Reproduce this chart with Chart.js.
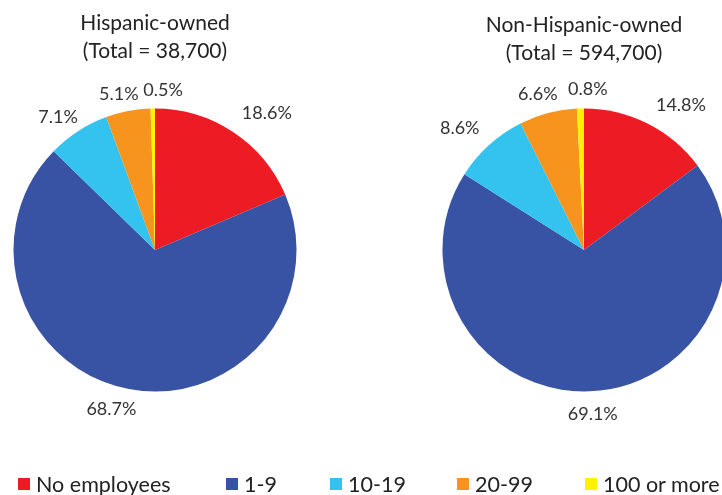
<!DOCTYPE html>
<html lang="en">
<head>
    <meta charset="UTF-8">
    <title>Firms by employment size: Hispanic vs Non-Hispanic owned</title>
    <script src="https://cdn.jsdelivr.net/npm/chart.js"></script>
    <style>
        html, body { margin: 0; padding: 0; background: #fff; overflow: hidden; }
        body { width: 722px; height: 495px; position: relative; font-family: Lato, "Open Sans", sans-serif; }
        .pie-box { position: absolute; top: 0; width: 310px; height: 495px; }
        #leftBox { left: 0; }
        #rightBox { left: 429px; }
        #legend { position: absolute; top: 471px; left: 18px; width: 704px; display: flex; font-size: 21.5px; line-height: 26px; color: #222; white-space: nowrap; }
        .item { display: flex; align-items: center; flex-shrink: 0; }
        .swatch { width: 12px; height: 12px; margin-right: 6px; }
    </style>
</head>
<body>
    <div id="leftBox" class="pie-box"><canvas id="leftPie"></canvas></div>
    <div id="rightBox" class="pie-box"><canvas id="rightPie"></canvas></div>
    <div id="legend"></div>

    <script>
        const categories = ['No employees', '1-9', '10-19', '20-99', '100 or more'];
        const hispanicShares = [18.6, 68.7, 7.1, 5.1, 0.5];
        const nonHispanicShares = [14.8, 69.1, 8.6, 6.6, 0.8];
        const hispanicTitle = ['Hispanic-owned', '(Total = 38,700)'];
        const nonHispanicTitle = ['Non-Hispanic-owned', '(Total = 594,700)'];
        const sliceColors = ['#ED1C24', '#3953A4', '#34C3EF', '#F7941D', '#FFF200'];

        // value labels sitting outside the pie, placed along each slice's middle angle
        const outsideLabels = {
            id: 'outsideLabels',
            afterDatasetsDraw(chart, args, opts) {
                const ctx = chart.ctx;
                const values = chart.data.datasets[0].data;
                ctx.save();
                ctx.font = opts.font;
                ctx.fillStyle = opts.color;
                ctx.textAlign = 'center';
                ctx.textBaseline = 'middle';
                chart.getDatasetMeta(0).data.forEach((arc, i) => {
                    const a = (arc.startAngle + arc.endAngle) / 2 + opts.turn[i] * Math.PI / 180;
                    const d = opts.dist[i];
                    ctx.fillText(values[i].toFixed(1) + '%', arc.x + Math.cos(a) * d, arc.y + Math.sin(a) * d);
                });
                ctx.restore();
            }
        };

        function makePie(id, values, title, titleTop, dist, turn) {
            return new Chart(document.getElementById(id), {
                type: 'pie',
                data: {
                    labels: categories,
                    datasets: [{
                        data: values,
                        backgroundColor: sliceColors,
                        borderWidth: 0
                    }]
                },
                options: {
                    responsive: true,
                    maintainAspectRatio: false,
                    animation: false,
                    layout: { padding: { left: 13.5, right: 13.5, top: 0, bottom: 103.5 } },
                    plugins: {
                        legend: { display: false },
                        tooltip: { enabled: false },
                        title: {
                            display: true,
                            text: title,
                            color: '#222',
                            font: { family: 'Lato', size: 21, weight: 'normal', lineHeight: 1.33 },
                            padding: { top: titleTop, bottom: 52.5 - titleTop }
                        },
                        outsideLabels: {
                            font: '18px Lato',
                            color: '#333',
                            dist: dist,
                            turn: turn
                        }
                    }
                },
                plugins: [outsideLabels]
            });
        }

        makePie('leftPie', hispanicShares, hispanicTitle, 9, [177, 165, 164, 160, 160], [5.7, 4.7, -3.3, -2.1, 3.8]);
        makePie('rightPie', nonHispanicShares, nonHispanicTitle, 11, [174, 164, 174, 162, 161], [7.2, -0.9, -3.4, -1.8, 2.8]);

        // legend below both pies
        const itemWidths = [208, 104, 127, 128, 137];
        const legend = document.getElementById('legend');
        categories.forEach((name, i) => {
            const item = document.createElement('div');
            item.className = 'item';
            item.style.width = itemWidths[i] + 'px';
            item.innerHTML = `<span class="swatch" style="background:${sliceColors[i]}"></span><span>${name}</span>`;
            legend.appendChild(item);
        });
    </script>
</body>
</html>
